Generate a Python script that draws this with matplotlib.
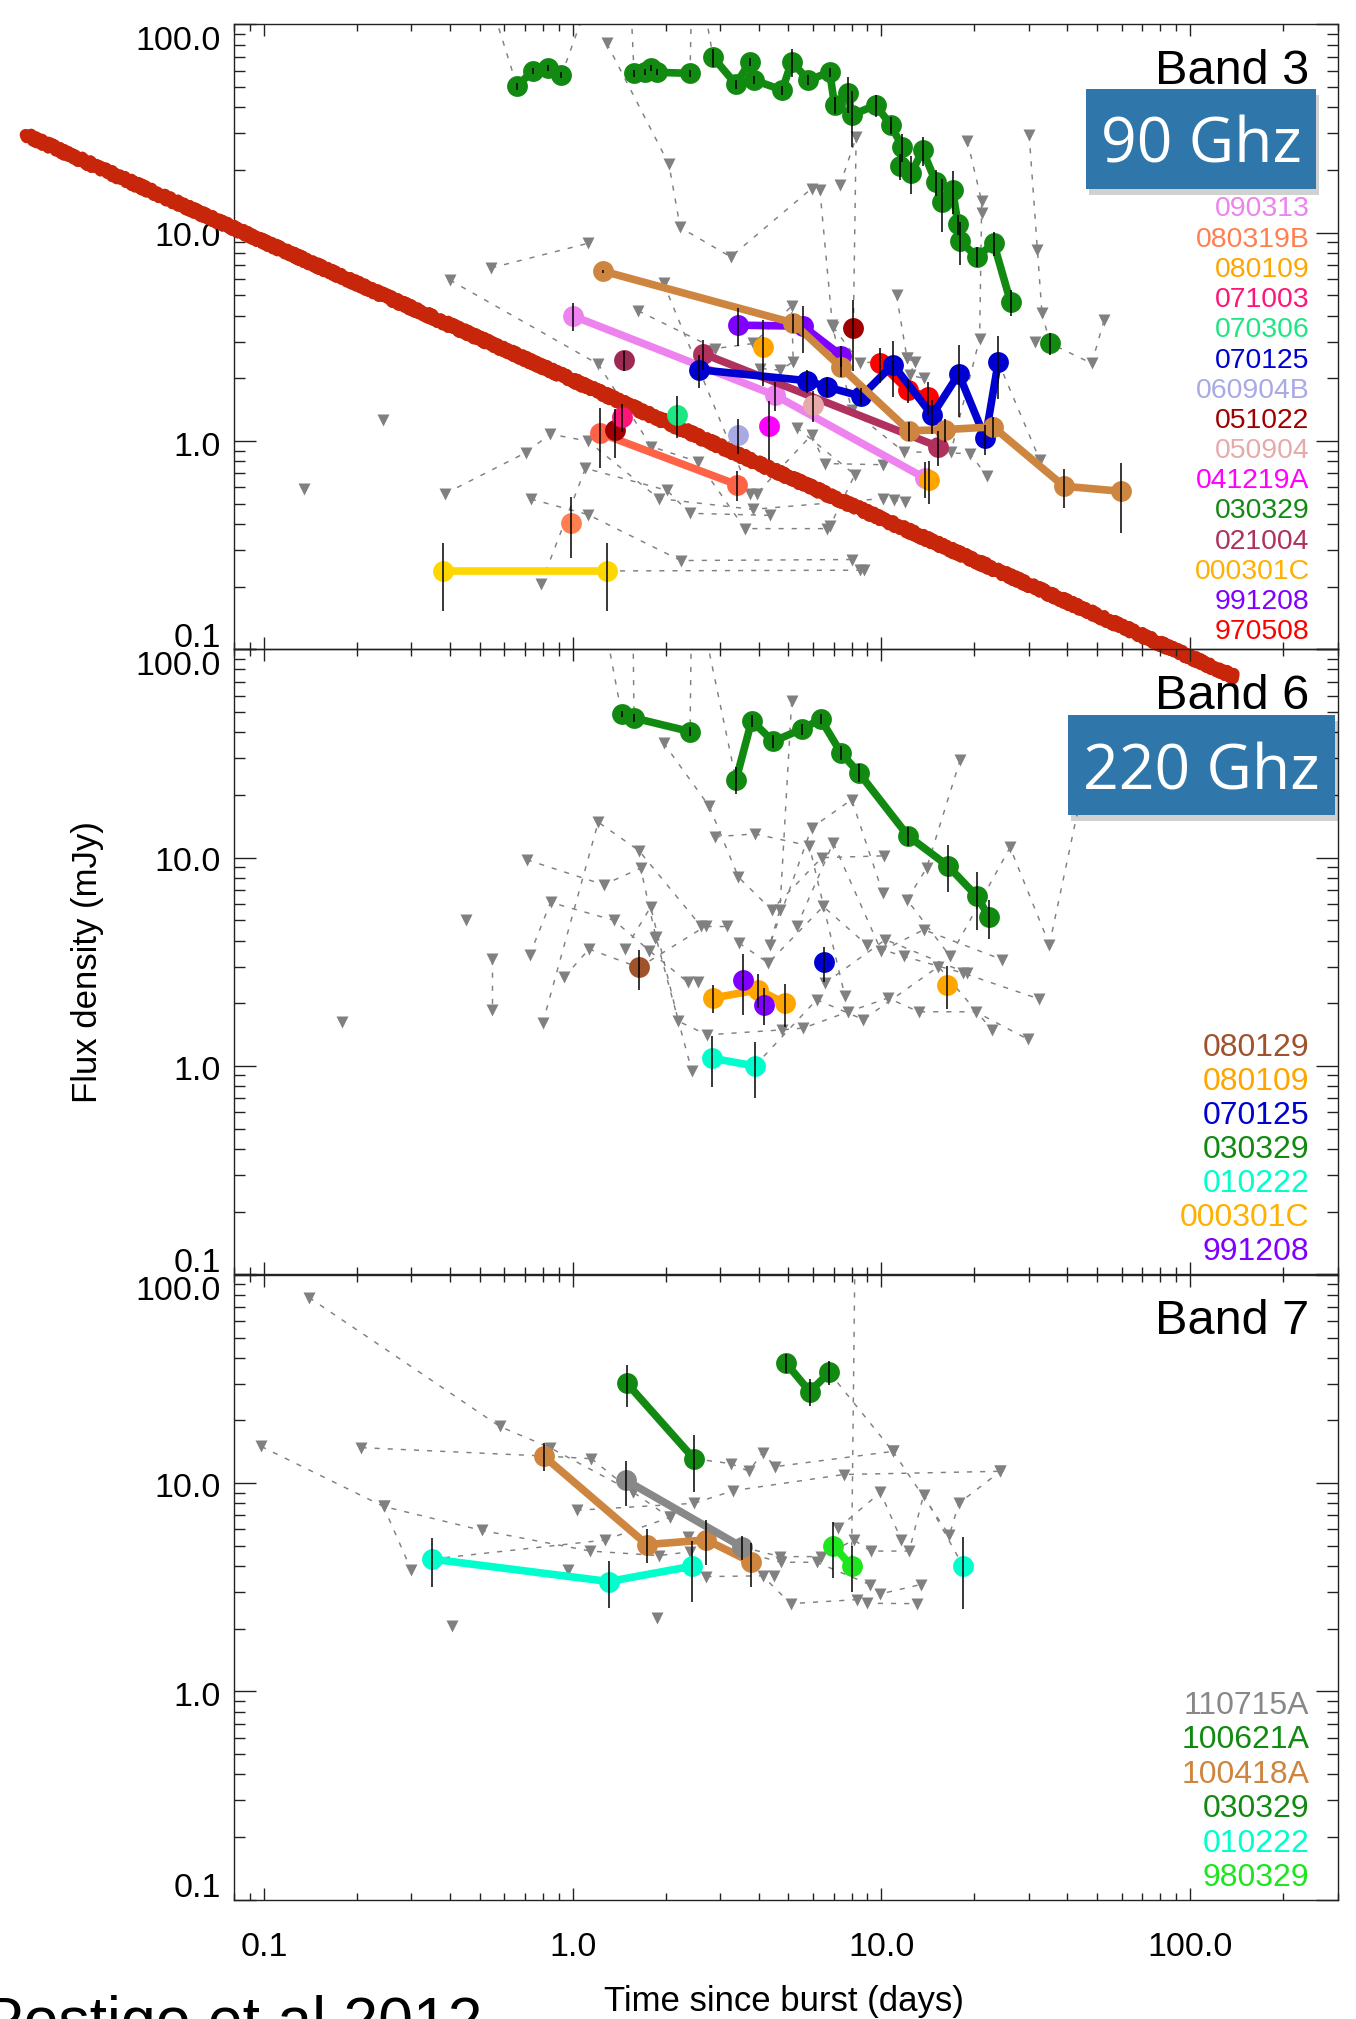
import matplotlib
matplotlib.use("Agg")
import matplotlib.pyplot as plt
import matplotlib.patheffects as pe
from matplotlib.patches import Rectangle
from matplotlib.ticker import LogLocator, NullFormatter
import numpy as np

plt.rcParams['font.family'] = ['Liberation Sans', 'DejaVu Sans']

# ------------------------------------------------------------------ data
# colours used for each burst
COL = {
    '090313': '#ee82ee', '080319B': '#ff7f50', '080109': '#ffa500',
    '071003': '#ff1477', '070306': '#1ee682', '070125': '#0000d0',
    '060904B': '#a9a9e6', '051022': '#a00000', '050904': '#e6aaaa',
    '041219A': '#ff00ff', '030329': '#128a12', '021004': '#b0305e',
    '000301C': '#ffb000', '991208': '#8000ff', '970508': '#ff0000',
    '080129': '#a0522d', '010222': '#00ffcc', '110715A': '#888888',
    '100621A': '#128a12', '100418A': '#cd853f', '980329': '#1ee61e',
}
GOLD = '#ffd700'
TOMATO = '#ff6347'
GRAY = '#808080'

# ---- Band 3 (90 GHz) detections: time (days), flux (mJy), 1-sigma error
b3_030329_a_t = [0.66, 0.745, 0.83, 0.92]
b3_030329_a_f = [50.6, 60.0, 61.5, 57.0]
b3_030329_a_e = [2, 2, 2, 2]
b3_030329_b_t = [1.58, 1.71, 1.79, 1.87, 2.40]
b3_030329_b_f = [58.2, 59.3, 61.5, 58.9, 58.2]
b3_030329_b_e = [2, 2, 2, 2, 2]
b3_030329_c_t = [2.85, 3.38, 3.75, 3.87, 4.77, 5.12, 5.80, 6.80, 7.05, 7.81, 8.01,
                 9.6, 10.7, 11.7, 11.5, 12.5, 13.6, 15.0, 15.7, 17.0, 17.7, 18.0,
                 20.4, 23.1, 26.2]
b3_030329_c_f = [69.5, 51.6, 66.2, 54.0, 48.4, 66.2, 54.0, 59.0, 41.0, 46.7, 36.7,
                 41.0, 32.9, 25.9, 20.9, 19.3, 24.9, 17.5, 14.1, 16.0, 11.0, 9.1,
                 7.66, 8.9, 4.65]
b3_030329_c_e = [7, 2.5, 3, 2.5, 2.5, 10, 3, 3, 4, 9, 11, 5, 3, 4, 3, 4, 4, 2.5,
                 4, 3.7, 1.2, 2.1, 0.85, 1.2, 0.65]
b3_030329_d_t, b3_030329_d_f, b3_030329_d_e = [35.2], [2.94], [0.35]

b3_090313_t, b3_090313_f, b3_090313_e = [1.0, 4.52, 13.8], [3.99, 1.66, 0.665], [0.6, 0.27, 0.13]
b3_080319B_t, b3_080319B_f, b3_080319B_e = [1.23, 3.40], [1.09, 0.618], [0.35, 0.1]
b3_080319B_s_t, b3_080319B_s_f, b3_080319B_s_e = [0.99], [0.406], [0.13]
b3_100418A_t = [1.256, 5.18, 7.38, 12.3, 16.1, 23.0, 39.0, 59.7]
b3_100418A_f = [6.54, 3.69, 2.27, 1.12, 1.135, 1.17, 0.607, 0.574]
b3_100418A_e = [0.1, 0.4, 0.25, 0.12, 0.14, 0.14, 0.13, 0.21]
b3_991208_t, b3_991208_f, b3_991208_e = [3.42, 5.57, 7.42], [3.6, 3.56, 2.57], [0.75, 0.9, 0.3]
b3_070125_t = [2.57, 5.73, 6.65, 8.6, 10.9, 14.6, 17.8, 21.7, 23.9]
b3_070125_f = [2.2, 1.95, 1.82, 1.64, 2.33, 1.33, 2.1, 1.03, 2.4]
b3_070125_e = [0.4, 0.25, 0.2, 0.15, 0.7, 0.25, 0.8, 0.17, 0.8]
b3_970508_t, b3_970508_f, b3_970508_e = [9.9, 12.2, 14.2], [2.36, 1.75, 1.63], [0.45, 0.23, 0.3]
b3_021004_t, b3_021004_f, b3_021004_e = [2.64, 15.3], [2.63, 0.94], [0.43, 0.18]
b3_021004_s_t, b3_021004_s_f, b3_021004_s_e = [1.47], [2.44], [0.27]
b3_051022_t, b3_051022_f, b3_051022_e = [1.37, 8.11], [1.13, 3.47], [0.3, 1.3]
b3_071003_t, b3_071003_f, b3_071003_e = [1.45], [1.30], [0.2]
b3_070306_t, b3_070306_f, b3_070306_e = [2.18], [1.34], [0.3]
b3_060904B_t, b3_060904B_f, b3_060904B_e = [3.42], [1.07], [0.2]
b3_041219A_t, b3_041219A_f, b3_041219A_e = [4.31], [1.18], [0.37]
b3_050904_t, b3_050904_f, b3_050904_e = [6.02], [1.49], [0.25]
b3_080109_t, b3_080109_f, b3_080109_e = [4.14, 14.3], [2.83, 0.65], [1.0, 0.15]
b3_000301C_t, b3_000301C_f, b3_000301C_e = [0.38, 1.29], [0.238, 0.238], [0.085, 0.085]

# afterglow decay band drawn across the 90 GHz panel
red_band_t = [0.0169, 138.5]
red_band_f = [29.5, 0.074]

# ---- Band 3 upper limits (chains of non-detections for one burst)
b3_limit_chains = [
    ([0.135], [0.586]), ([0.243], [1.26]),
    ([0.545, 1.12], [6.78, 8.89]),
    ([0.40, 1.21, 1.80, 2.55, 3.61, 6.65], [5.93, 2.34, 0.94, 0.795, 0.38, 0.38]),
    ([1.29, 2.05, 2.23, 3.25, 5.94], [81, 21.3, 10.6, 7.66, 16.3]),
    ([6.32, 6.94, 8.0, 11.8, 19.4, 21.9], [16.0, 3.59, 1.41, 0.89, 0.87, 0.68]),
    ([7.34, 8.28], [16.9, 28.7]),
    ([19.0, 21.1, 21.1, 20.8, 16.8], [27.5, 14.2, 12.5, 3.1, 0.89]),
    ([30.1, 32.0, 33.1], [29.4, 8.3, 4.12]),
    ([48.0, 52.7], [2.36, 3.83]),
    ([31.5], [3.0]), ([32.6], [0.81]),
    ([11.2, 12.1, 12.8, 12.4, 13.7], [5.0, 2.5, 2.4, 2.07, 2.0]),
    ([1.63, 2.89, 3.85, 5.12, 5.18, 4.69, 4.04], [4.22, 2.78, 2.94, 4.44, 2.4, 2.19, 2.23]),
    ([6.98, 8.53, 12.1], [3.53, 2.36, 2.5]),
    ([0.387, 0.705, 0.846, 1.12, 1.9, 3.83, 10.1, 11.0, 11.9],
     [0.56, 0.88, 1.08, 1.0, 0.53, 0.47, 0.53, 0.52, 0.51]),
    ([0.732, 1.12, 2.24, 8.05], [0.527, 0.444, 0.267, 0.27]),
    ([0.789, 1.10, 2.02, 2.4, 4.35], [0.206, 0.74, 0.58, 0.45, 0.44]),
    ([8.5, 8.8], [0.24, 0.24]),
    ([1.97, 3.76, 3.95, 5.94, 6.57, 10.1], [5.71, 0.56, 0.56, 1.07, 0.78, 0.77]),
    ([5.32, 8.2, 6.81], [1.16, 0.69, 0.39]),
]
# dashed links between limits and detections
b3_links = [
    ([0.56, 0.66], [110, 50.6]), ([0.92, 1.08], [57, 110]),
    ([1.55, 1.58], [110, 58.2]), ([2.42, 2.40], [110, 58.2]),
    ([2.70, 2.85], [110, 69.5]), ([8.28, 8.11], [28.7, 3.47]),
    ([33.1, 35.2, 48.0], [4.12, 2.94, 2.36]), ([23.9, 32.6], [2.4, 0.81]),
    ([1.29, 8.5], [0.238, 0.24]),
]
b3_legend = ['090313', '080319B', '080109', '071003', '070306', '070125', '060904B',
             '051022', '050904', '041219A', '030329', '021004', '000301C', '991208',
             '970508']

# ---- Band 6 (220 GHz) detections
b6_030329_a_t, b6_030329_a_f, b6_030329_a_e = [1.44, 1.58, 2.40], [49, 46.8, 40.3], [1.5, 2, 2]
b6_030329_b_t = [3.38, 3.80, 4.46, 5.52, 6.36, 7.40, 8.46, 12.2, 16.4, 20.4, 22.3]
b6_030329_b_f = [23.6, 45.5, 36.1, 41.4, 46.2, 31.8, 25.5, 12.7, 9.14, 6.51, 5.19]
b6_030329_b_e = [3.5, 3, 2.5, 2.5, 2.5, 2.5, 2.5, 1.3, 2.3, 2.0, 1.1]
b6_000301C_t, b6_000301C_f, b6_000301C_e = [2.85, 3.99, 4.87], [2.12, 2.32, 2.0], [0.32, 0.43, 0.47]
b6_080109_t, b6_080109_f, b6_080109_e = [16.3], [2.45], [0.57]
b6_991208_t, b6_991208_f, b6_991208_e = [3.55, 4.17], [2.6, 1.97], [0.85, 0.4]
b6_070125_t, b6_070125_f, b6_070125_e = [6.52], [3.14], [0.6]
b6_080129_t, b6_080129_f, b6_080129_e = [1.64], [2.97], [0.65]
b6_010222_t, b6_010222_f, b6_010222_e = [2.82, 3.89], [1.09, 1.0], [0.3, 0.3]

b6_limit_chains = [
    ([0.179], [1.62]), ([0.453], [5.04]),
    ([0.546, 0.546], [3.26, 1.86]),
    ([0.80, 1.21, 1.64, 2.6], [1.61, 14.8, 10.8, 4.7]),
    ([0.726, 0.848, 1.36, 1.77, 2.36], [3.41, 6.1, 5.0, 3.58, 2.52]),
    ([0.939, 1.13], [2.67, 3.64]), ([2.7, 3.15], [4.7, 4.7]),
    ([0.71, 1.26, 1.66, 1.86, 2.43], [9.77, 7.41, 8.9, 4.16, 0.95]),
    ([1.48, 1.79, 2.2, 2.72, 4.75, 5.58, 7.81, 10.5, 13.2, 20.2, 29.9],
     [3.64, 5.8, 1.64, 1.41, 1.49, 1.52, 1.82, 2.12, 1.82, 1.82, 1.34]),
    ([1.97, 2.77, 3.44, 4.41, 6.41, 10.2], [35.5, 17.6, 8.07, 5.62, 10.0, 10.2]),
    ([2.90, 3.89, 5.84, 7.62], [12.6, 13.0, 11.4, 2.16]),
    ([5.12, 4.69, 4.35, 5.94, 8.01, 10.1], [56.2, 5.62, 3.82, 13.9, 19.0, 6.76]),
    ([18.0, 14.0, 12.1, 16.7, 26.1, 35.0], [29.5, 8.9, 6.28, 3.36, 11.2, 3.82]),
    ([3.46, 4.3, 6.48, 8.96, 11.8, 18.4, 32.3], [3.89, 3.12, 5.83, 3.82, 3.36, 2.79, 2.1]),
    ([6.17, 8.74, 15.3, 22.8], [2.08, 1.67, 3.0, 1.49]),
    ([5.32, 6.98, 10.0, 13.7, 24.6], [4.68, 11.8, 3.55, 4.51, 3.24]),
    ([6.57, 10.3, 18.9], [2.5, 4.04, 2.79]),
    ([2.55], [2.52]), ([1.85], [4.1]),
]
b6_links = [
    ([1.30, 1.44], [110, 49]), ([1.57, 1.58], [110, 46.8]),
    ([2.42, 2.40], [110, 40.3]), ([2.72, 3.38], [110, 23.6]),
    ([1.13, 1.64, 2.7], [3.64, 2.97, 4.7]), ([3.89, 6.17], [1.0, 2.08]),
    ([35.0, 47.0], [3.82, 30.0]),
]
b6_legend = ['080129', '080109', '070125', '030329', '010222', '000301C', '991208']

# ---- Band 7 (345 GHz) detections
b7_110715A_t, b7_110715A_f, b7_110715A_e = [1.49, 3.54], [10.3, 4.93], [2.5, 0.65]
b7_100621A_t, b7_100621A_f, b7_100621A_e = [1.50, 2.47], [30.1, 13.1], [7.0, 4.0]
b7_030329_t, b7_030329_f, b7_030329_e = [4.91, 5.86, 6.78], [37.7, 27.5, 34.0], [4, 4, 4.5]
b7_100418A_t = [0.805, 1.74, 2.71, 3.79]
b7_100418A_f = [13.5, 5.07, 5.34, 4.17]
b7_100418A_e = [2.1, 0.95, 1.3, 1.0]
b7_010222_t, b7_010222_f, b7_010222_e = [0.35, 1.31, 2.43], [4.32, 3.37, 3.99], [1.15, 0.85, 1.3]
b7_010222_s_t, b7_010222_s_f, b7_010222_s_e = [18.4], [3.99], [1.5]
b7_980329_t, b7_980329_f, b7_980329_e = [6.99, 8.0], [5.01, 3.99], [1.5, 1.0]

b7_limit_chains = [
    ([0.14, 0.581, 0.844, 1.57, 2.06], [77.8, 18.7, 14.8, 9.05, 6.84]),
    ([0.098, 0.244, 0.508, 1.14, 1.90, 2.39], [15.0, 7.73, 5.93, 4.72, 4.49, 4.68]),
    ([0.207], [14.8]), ([0.244, 0.30], [7.73, 3.83]), ([0.407], [2.06]),
    ([1.15, 1.57], [13.1, 9.05]), ([1.27, 2.06], [5.33, 6.84]),
    ([1.03, 2.47, 3.31, 7.55, 24.3], [7.41, 8.0, 9.2, 11.0, 11.4]),
    ([3.26, 3.72, 4.12, 4.53, 10.9], [12.4, 11.4, 14.0, 12.0, 14.2]),
    ([10.9, 16.6, 17.8, 24.3], [14.2, 5.62, 8.0, 11.4]),
    ([4.71, 6.38, 8.15, 9.23, 12.3, 13.7], [4.44, 4.44, 5.33, 4.72, 4.72, 8.81]),
    ([2.71, 4.12, 5.08, 8.34, 8.98, 13.0], [3.56, 3.59, 2.64, 2.76, 2.65, 2.64]),
    ([2.37, 4.73, 6.17, 9.16, 9.93, 13.4], [5.49, 4.17, 4.17, 3.26, 2.94, 3.26]),
    ([7.25, 9.93, 11.6], [6.1, 9.02, 5.33]),
    ([1.87], [2.26]), ([0.964], [3.83]), ([4.48], [3.59]),
]
b7_links = [
    ([0.207, 0.805, 1.15], [14.8, 13.5, 13.1]), ([0.35, 1.27], [4.32, 5.33]),
    ([2.47, 3.26], [13.1, 12.4]), ([6.78, 10.9], [34.0, 14.2]),
    ([8.2, 8.0], [110, 3.99]), ([3.54, 4.71], [4.93, 4.44]),
    ([13.7, 18.4], [8.81, 3.99]),
]
b7_legend = ['110715A', '100621A', '100418A', '030329', '010222', '980329']

y_ticks = [100, 10, 1, 0.1]
y_tick_labels = ['100.0', '10.0', '1.0', '0.1']
x_ticks = [0.1, 1, 10, 100]
x_tick_labels = ['0.1', '1.0', '10.0', '100.0']

# ------------------------------------------------------------------ figure
W, H = 1356, 2019
fig = plt.figure(figsize=(W / 100, H / 100), dpi=100)


def fx(px):
    return px / W


def fy(py):
    return 1 - py / H


LEFT, RIGHT = 234.0, 1337.5
PANEL_H = 625.0
tops = [24.4, 649.3, 1274.8]
axes = []
for top in tops:
    ax = fig.add_axes([fx(LEFT), fy(top + PANEL_H), (RIGHT - LEFT) / W, PANEL_H / H])
    ax.set_facecolor('none')
    axes.append(ax)
ax1, ax2, ax3 = axes

DASH = (0, (3.5, 5.5))


def draw_limits(ax, chains, links):
    for t, f in links:
        ax.plot(t, f, color=GRAY, lw=1.05, ls=DASH, zorder=2)
    for t, f in chains:
        ax.plot(t, f, color=GRAY, lw=1.05, ls=DASH, marker='v', ms=8.5,
                mfc=GRAY, mec='none', zorder=2)


def draw_series(ax, t, f, e, color, joined=True):
    ax.plot(t, f, ls='-' if joined else 'none', color=color, lw=5.5,
            marker='o', ms=15, mfc=color, mec='none', zorder=3,
            solid_capstyle='round', solid_joinstyle='round')
    ax.errorbar(t, f, yerr=e, fmt='none', ecolor='black', elinewidth=1.1,
                capsize=0, zorder=4)


# ---- Band 3
draw_limits(ax1, b3_limit_chains, b3_links)
RED = '#c8260a'
band, = ax1.plot(red_band_t, red_band_f, color=RED, lw=8.5, solid_capstyle='round',
                 clip_on=False, zorder=2.6)
band.set_sketch_params(scale=2.5, length=6, randomness=3)
band.set_path_effects([
    pe.Stroke(offset=(0.3, 2.6), linewidth=3.2, foreground=RED),
    pe.Stroke(offset=(-0.3, -2.6), linewidth=3.2, foreground=RED),
    pe.Normal(),
])
draw_series(ax1, b3_000301C_t, b3_000301C_f, b3_000301C_e, GOLD)
draw_series(ax1, b3_080319B_t, b3_080319B_f, b3_080319B_e, TOMATO)
draw_series(ax1, b3_080319B_s_t, b3_080319B_s_f, b3_080319B_s_e, COL['080319B'], False)
draw_series(ax1, b3_090313_t, b3_090313_f, b3_090313_e, COL['090313'])
draw_series(ax1, b3_021004_t, b3_021004_f, b3_021004_e, COL['021004'])
draw_series(ax1, b3_021004_s_t, b3_021004_s_f, b3_021004_s_e, '#9c2a52', False)
draw_series(ax1, b3_051022_t, b3_051022_f, b3_051022_e, COL['051022'], False)
draw_series(ax1, b3_071003_t, b3_071003_f, b3_071003_e, COL['071003'], False)
draw_series(ax1, b3_070306_t, b3_070306_f, b3_070306_e, COL['070306'], False)
draw_series(ax1, b3_060904B_t, b3_060904B_f, b3_060904B_e, COL['060904B'], False)
draw_series(ax1, b3_041219A_t, b3_041219A_f, b3_041219A_e, COL['041219A'], False)
draw_series(ax1, b3_050904_t, b3_050904_f, b3_050904_e, COL['050904'], False)
draw_series(ax1, b3_080109_t, b3_080109_f, b3_080109_e, COL['080109'], False)
draw_series(ax1, b3_991208_t, b3_991208_f, b3_991208_e, COL['991208'])
draw_series(ax1, b3_970508_t, b3_970508_f, b3_970508_e, COL['970508'])
draw_series(ax1, b3_070125_t, b3_070125_f, b3_070125_e, COL['070125'])
draw_series(ax1, b3_100418A_t, b3_100418A_f, b3_100418A_e, COL['100418A'])
for t, f, e in [(b3_030329_a_t, b3_030329_a_f, b3_030329_a_e),
                (b3_030329_b_t, b3_030329_b_f, b3_030329_b_e),
                (b3_030329_c_t, b3_030329_c_f, b3_030329_c_e),
                (b3_030329_d_t, b3_030329_d_f, b3_030329_d_e)]:
    draw_series(ax1, t, f, e, COL['030329'])

# ---- Band 6
draw_limits(ax2, b6_limit_chains, b6_links)
draw_series(ax2, b6_030329_a_t, b6_030329_a_f, b6_030329_a_e, COL['030329'])
draw_series(ax2, b6_030329_b_t, b6_030329_b_f, b6_030329_b_e, COL['030329'])
draw_series(ax2, b6_080129_t, b6_080129_f, b6_080129_e, COL['080129'], False)
draw_series(ax2, b6_000301C_t, b6_000301C_f, b6_000301C_e, COL['080109'])
draw_series(ax2, b6_080109_t, b6_080109_f, b6_080109_e, COL['080109'], False)
draw_series(ax2, b6_991208_t, b6_991208_f, b6_991208_e, COL['991208'], False)
draw_series(ax2, b6_070125_t, b6_070125_f, b6_070125_e, COL['070125'], False)
draw_series(ax2, b6_010222_t, b6_010222_f, b6_010222_e, COL['010222'])

# ---- Band 7
draw_limits(ax3, b7_limit_chains, b7_links)
draw_series(ax3, b7_010222_t, b7_010222_f, b7_010222_e, COL['010222'])
draw_series(ax3, b7_010222_s_t, b7_010222_s_f, b7_010222_s_e, COL['010222'], False)
draw_series(ax3, b7_100418A_t, b7_100418A_f, b7_100418A_e, COL['100418A'])
draw_series(ax3, b7_110715A_t, b7_110715A_f, b7_110715A_e, COL['110715A'])
draw_series(ax3, b7_100621A_t, b7_100621A_f, b7_100621A_e, COL['100621A'])
draw_series(ax3, b7_030329_t, b7_030329_f, b7_030329_e, COL['030329'])
draw_series(ax3, b7_980329_t, b7_980329_f, b7_980329_e, COL['980329'])

# ---- axes styling
y_label_dy = [-17, -5, -6, 11]      # pixel shift of each y label from its tick
for ax in axes:
    ax.set_xscale('log')
    ax.set_yscale('log')
    ax.set_xlim(0.08, 300)
    ax.set_ylim(0.1, 100)
    for a in (ax.xaxis, ax.yaxis):
        a.set_major_locator(LogLocator(base=10, numticks=50))
        a.set_minor_locator(LogLocator(base=10, subs=np.arange(2, 10), numticks=50))
        a.set_minor_formatter(NullFormatter())
    ax.tick_params(which='both', direction='in', top=True, right=True,
                   labelbottom=False, labelleft=False, color='#222222', width=1.0)
    ax.tick_params(axis='x', which='major', length=8.8)
    ax.tick_params(axis='x', which='minor', length=5)
    ax.tick_params(axis='y', which='major', length=16)
    ax.tick_params(axis='y', which='minor', length=8)
    for s in ax.spines.values():
        s.set_linewidth(1.0)
        s.set_color('#222222')
    for v, lbl, dy in zip(y_ticks, y_tick_labels, y_label_dy):
        ax.annotate(lbl, xy=(0, v), xycoords=('axes fraction', 'data'),
                    xytext=(-9.4, dy * 0.72), textcoords='offset points',
                    ha='right', va='center', fontsize=24.5, annotation_clip=False,
                    zorder=1)

for v, lbl in zip(x_ticks, x_tick_labels):
    ax3.annotate(lbl, xy=(v, 0), xycoords=('data', 'axes fraction'),
                 xytext=(0, -48 * 0.72), textcoords='offset points',
                 ha='center', va='center', fontsize=24.5, annotation_clip=False)

# ---- band labels, legends and frequency boxes
RX = 1309.6
for txt, base in [('Band 3', 84), ('Band 6', 709.4), ('Band 7', 1334.5)]:
    fig.text(fx(RX), fy(base), txt, ha='right', va='baseline', fontsize=35, zorder=12)

for i, name in enumerate(b3_legend):
    fig.text(fx(RX), fy(216.5 + 30.2 * i), name, ha='right', va='baseline',
             fontsize=20.4, color=COL[name], zorder=12)
for i, name in enumerate(b6_legend):
    fig.text(fx(RX), fy(1055.5 + 34 * i), name, ha='right', va='baseline',
             fontsize=23, color=COL[name], zorder=12)
for i, name in enumerate(b7_legend):
    fig.text(fx(RX), fy(1714 + 34.4 * i), name, ha='right', va='baseline',
             fontsize=23, color=COL[name], zorder=12)

for (x0, x1, y0, y1, label, base) in [(1085.8, 1316.4, 89.2, 188.6, '90 Ghz', 162),
                                      (1067.8, 1335.3, 715.0, 815.0, '220 Ghz', 789.4)]:
    fig.add_artist(Rectangle((fx(x0 + 3), fy(y1 + 6)), (x1 - x0) / W, (y1 - y0) / H,
                             transform=fig.transFigure, facecolor='black',
                             edgecolor='none', alpha=0.18, zorder=10))
    fig.add_artist(Rectangle((fx(x0), fy(y1)), (x1 - x0) / W, (y1 - y0) / H,
                             transform=fig.transFigure, facecolor='#2f77aa',
                             edgecolor='none', zorder=11))
    fig.text(fx((x0 + x1) / 2), fy(base), label, ha='center', va='baseline',
             fontsize=45, color='white', family=['Open Sans', 'Liberation Sans'],
             fontweight='normal', zorder=13)

fig.text(fx(87), fy(962), 'Flux density (mJy)', rotation=90, ha='center',
         va='center', fontsize=25)
fig.text(fx(783.5), fy(2001), 'Time since burst (days)', ha='center', va='center',
         fontsize=25)
fig.text(fx(-18), fy(2041), 'Postigo et al 2012', ha='left', va='baseline',
         fontsize=45)

fig.savefig('out.png', dpi=100)
